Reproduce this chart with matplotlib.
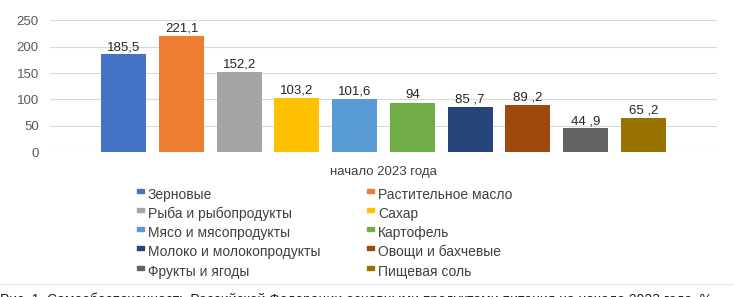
import matplotlib.pyplot as plt
from matplotlib.patches import Rectangle

# данные
categories = ["Зерновые", "Растительное масло", "Рыба и рыбопродукты", "Сахар",
              "Мясо и мясопродукты", "Картофель", "Молоко и молокопродукты",
              "Овощи и бахчевые", "Фрукты и ягоды", "Пищевая соль"]
values = [185.5, 221.1, 152.2, 103.2, 101.6, 94, 85.7, 89.2, 44.9, 65.2]
value_labels = ["185,5", "221,1", "152,2", "103,2", "101,6", "94", "85 ,7", "89 ,2", "44 ,9", "65 ,2"]
colors = ["#4472C4", "#ED7D31", "#A5A5A5", "#FFC000", "#5B9BD5",
          "#70AD47", "#264478", "#9E480E", "#636363", "#997300"]
yticks = [0, 50, 100, 150, 200, 250]
group_label = "начало 2023 года"
caption = "Рис. 1. Самообеспеченность Российской Федерации основными продуктами питания на начало 2023 года, %"

plt.rcParams['font.family'] = ['Liberation Sans', 'DejaVu Sans']

fig = plt.figure(figsize=(7.34, 2.97), dpi=100)
ax = fig.add_axes([0.068, 0.488, 0.909, 0.443])

x = list(range(len(values)))
bars = ax.bar(x, values, width=0.78, color=colors)
ax.bar_label(bars, labels=value_labels, padding=1, fontsize=9.5, color="#262626")

ax.set_xlim(-1.28, 10.28)
ax.set_ylim(0, 250)
ax.set_yticks(yticks)
ax.set_xticks([])
ax.grid(axis='y', color="#d9d9d9", linewidth=0.8)
ax.set_axisbelow(True)
for s in ax.spines.values():
    s.set_visible(False)
ax.tick_params(axis='y', length=0, labelsize=9.5, labelcolor="#595959", pad=8)
ax.set_xlabel(group_label, fontsize=9.5, color="#404040", labelpad=10)

# легенда (две колонки, заполняется по строкам)
row_y = [195, 214, 233, 252, 272]
col_x = [137, 367]
W, H = 734, 297
for i, (name, c) in enumerate(zip(categories, colors)):
    r, col = divmod(i, 2)
    mx = col_x[col] / W
    my = 1 - (row_y[r] - 6) / H
    fig.add_artist(Rectangle((mx, my - 4 / H), 7 / W, 4 / H, color=c,
                             transform=fig.transFigure))
    fig.text((col_x[col] + 11) / W, 1 - row_y[r] / H, name, fontsize=10,
             color="#404040", va='center')

# подпись рисунка (обрезана нижним краем)
fig.add_artist(plt.Line2D([0, 1], [1 - 284 / H] * 2, color="#e6e6e6", lw=0.8,
                          transform=fig.transFigure))
fig.text(0.0, 1 - 304 / H, caption, fontsize=10, color="#202020",
         va='baseline', ha='left')

fig.savefig("out.png", dpi=100)
